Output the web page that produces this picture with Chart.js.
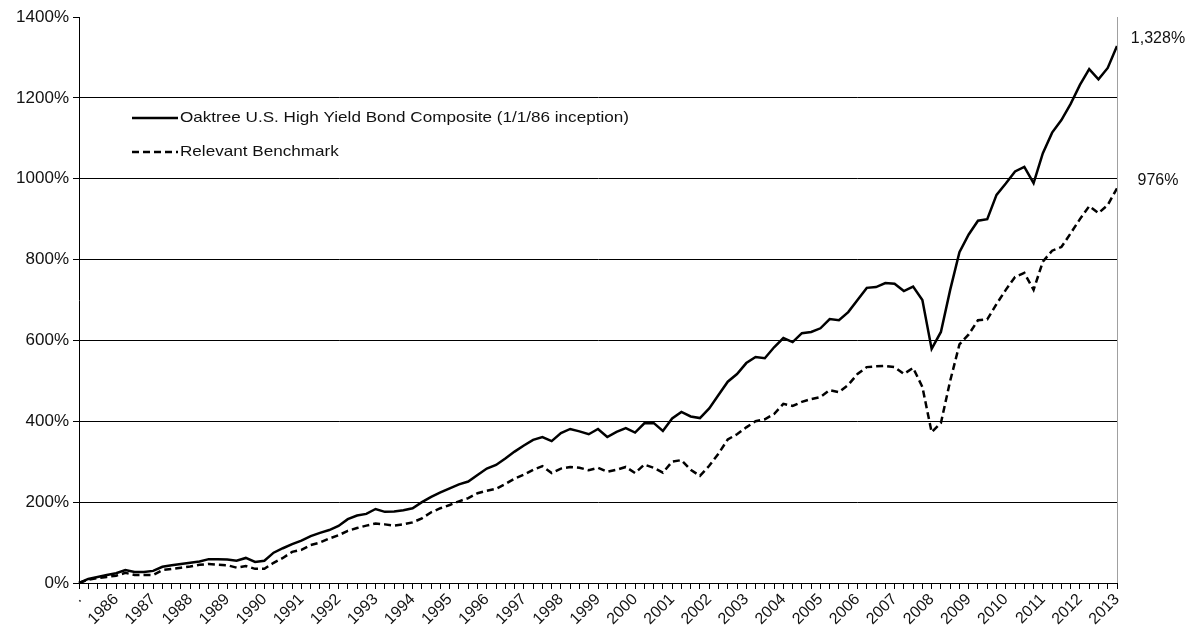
<!DOCTYPE html>
<html>
<head>
<meta charset="utf-8">
<title>Oaktree U.S. High Yield Bond Composite</title>
<script src="https://cdn.jsdelivr.net/npm/chart.js@4.4.0/dist/chart.umd.min.js"></script>
<style>
  html, body { margin: 0; padding: 0; background: #fff; }
  #wrap { width: 1189px; height: 632px; position: relative; }
</style>
</head>
<body>
<div id="wrap"><canvas id="returnsChart"></canvas></div>
<script>
// year labels sit on the last quarter of each year, first point is inception
const years = [1986, 1987, 1988, 1989, 1990, 1991, 1992, 1993, 1994, 1995, 1996, 1997, 1998, 1999,
               2000, 2001, 2002, 2003, 2004, 2005, 2006, 2007, 2008, 2009, 2010, 2011, 2012, 2013];

// cumulative return, %, quarterly
const oaktree = [
  0, 10, 15, 20, 24, 32, 27, 27, 30, 40,
  44, 47, 50, 53, 59, 59, 58, 55, 62, 52,
  55, 75, 86, 96, 105, 116, 124, 131, 141, 158,
  167, 171, 183, 176, 177, 180, 185, 200, 213, 224,
  234, 244, 251, 267, 283, 292, 308, 325, 340, 354,
  361, 351, 371, 381, 375, 368, 381, 361, 374, 383,
  372, 395, 396, 376, 407, 423, 412, 408, 432, 465,
  498, 517, 544, 559, 556, 583, 606, 596, 618, 621,
  630, 653, 650, 670, 700, 730, 732, 742, 740, 722,
  733, 700, 579, 621, 725, 818, 862, 896, 900, 960,
  988, 1018, 1029, 989, 1063, 1114, 1145, 1185, 1232, 1271,
  1246, 1274, 1328
];

const benchmark = [
  0, 8, 12, 15, 18, 25, 20, 20, 20, 32,
  35, 38, 41, 45, 47, 45, 44, 38, 42, 35,
  35, 50, 62, 77, 82, 94, 100, 110, 118, 129,
  136, 142, 147, 145, 142, 145, 150, 160, 175, 185,
  193, 202, 210, 222, 228, 233, 245, 258, 268, 280,
  289, 272, 283, 287, 285, 279, 285, 275, 280, 287,
  272, 293, 285, 273, 300, 304, 280, 265, 290, 320,
  355, 368, 385, 400, 405, 418, 443, 438, 448, 455,
  460, 477, 472, 490, 517, 534, 536, 537, 534, 517,
  532, 485, 373, 396, 500, 590, 615, 650, 652, 690,
  725, 757, 767, 725, 795, 822, 831, 865, 900, 932,
  915, 935, 976
];

const yTicks = [0, 200, 400, 600, 800, 1000, 1200, 1400];

const labels = ['.'];
years.forEach(y => { labels.push('', '', '', String(y)); });

const FONT = "'Liberation Sans', Arial, sans-serif";

// legend drawn inside the plot area (text a bit stretched like the original)
const legendInPlot = {
  id: 'legendInPlot',
  afterDraw(chart) {
    const { ctx, chartArea } = chart;
    chart.data.datasets.forEach((ds, i) => {
      const x = chartArea.left + 53;
      const y = chartArea.top + 101 + i * 34;
      ctx.save();
      ctx.strokeStyle = '#000';
      ctx.lineWidth = 2.5;
      ctx.setLineDash(ds.borderDash || []);
      ctx.beginPath();
      ctx.moveTo(x, y);
      ctx.lineTo(x + 46, y);
      ctx.stroke();
      ctx.setLineDash([]);
      ctx.fillStyle = '#111';
      ctx.font = '15px ' + FONT;
      ctx.textBaseline = 'middle';
      ctx.translate(x + 48, y);
      ctx.scale(1.14, 1);
      ctx.fillText(ds.label, 0, 0);
      ctx.restore();
    });
  }
};

// gray right border + last value labels
const endLabels = {
  id: 'endLabels',
  afterDraw(chart) {
    const { ctx, chartArea } = chart;
    const yScale = chart.scales.y;
    ctx.save();
    ctx.strokeStyle = '#a0a0a0';
    ctx.lineWidth = 1;
    ctx.beginPath();
    ctx.moveTo(chartArea.right + 0.5, chartArea.top);
    ctx.lineTo(chartArea.right + 0.5, chartArea.bottom);
    ctx.stroke();

    ctx.fillStyle = '#111';
    ctx.font = '16px ' + FONT;
    ctx.textAlign = 'center';
    ctx.textBaseline = 'middle';
    chart.data.datasets.forEach(ds => {
      const last = ds.data[ds.data.length - 1];
      const y = yScale.getPixelForValue(last) - 8;
      ctx.fillText(last.toLocaleString('en-US') + '%', chartArea.right + 41, y);
    });
    ctx.restore();
  }
};

new Chart(document.getElementById('returnsChart'), {
  type: 'line',
  data: {
    labels: labels,
    datasets: [
      {
        label: 'Oaktree U.S. High Yield Bond Composite (1/1/86 inception)',
        data: oaktree,
        borderColor: '#000',
        borderWidth: 2.5,
        pointRadius: 0,
        tension: 0
      },
      {
        label: 'Relevant Benchmark',
        data: benchmark,
        borderColor: '#000',
        borderWidth: 2.5,
        borderDash: [7, 4],
        pointRadius: 0,
        tension: 0
      }
    ]
  },
  options: {
    responsive: true,
    maintainAspectRatio: false,
    animation: false,
    layout: { padding: { top: 17, right: 72, left: 0, bottom: 0 } },
    plugins: {
      legend: { display: false },
      tooltip: { enabled: false }
    },
    scales: {
      x: {
        grid: { drawOnChartArea: false, tickLength: 6, color: '#000' },
        border: { color: '#000', width: 1 },
        ticks: {
          autoSkip: false,
          maxRotation: 45,
          minRotation: 45,
          padding: 1,
          color: '#111',
          font: { family: FONT, size: 16 }
        },
        afterFit(scale) { scale.height = 49; }
      },
      y: {
        min: 0,
        max: 1400,
        afterBuildTicks(scale) { scale.ticks = yTicks.map(v => ({ value: v })); },
        ticks: {
          callback: v => v + '%',
          padding: 4,
          color: '#111',
          font: { family: FONT, size: 17 }
        },
        grid: {
          color: ctx => (ctx.tick && ctx.tick.value === 1400) ? 'rgba(0,0,0,0)' : '#000',
          tickColor: '#000',
          tickLength: 6
        },
        border: { color: '#000', width: 1 },
        afterFit(scale) { scale.width = 79; }
      }
    }
  },
  plugins: [legendInPlot, endLabels]
});
</script>
</body>
</html>
